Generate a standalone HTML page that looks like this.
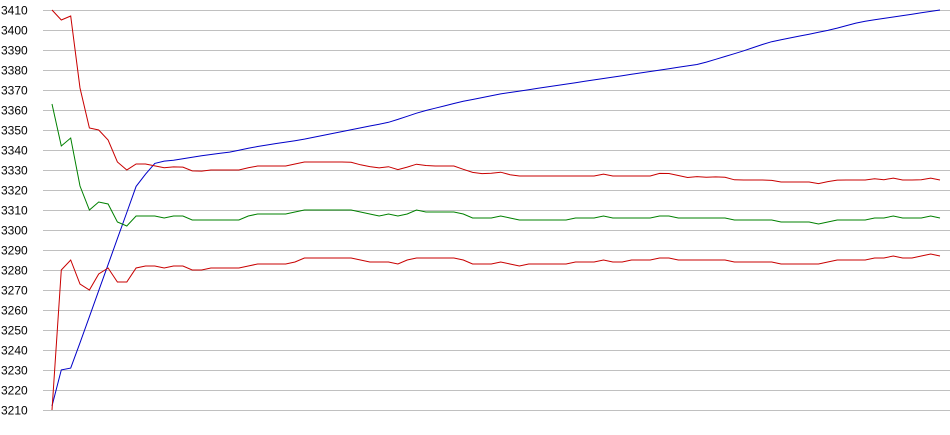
<!DOCTYPE html>
<html><head><meta charset="utf-8"><style>
html,body{margin:0;padding:0;background:#fff;width:950px;height:435px;overflow:hidden}
svg text{font-family:"Liberation Sans",Arial,sans-serif;font-size:12px;fill:#000}
</style></head><body>
<svg id="c" width="950" height="435" xmlns="http://www.w3.org/2000/svg">
<g id="grid" stroke="#c0c0c0" stroke-width="1"></g>
<g id="labels"></g>
<polyline id="b" fill="none" stroke="#0000c8" stroke-width="1"/>
<polyline id="r1" fill="none" stroke="#c80000" stroke-width="1"/>
<polyline id="g" fill="none" stroke="#008000" stroke-width="1"/>
<polyline id="r2" fill="none" stroke="#c80000" stroke-width="1"/>
</svg>
<script>
var Y=function(v){return 10+(3410-v)*2;};
var ns="http://www.w3.org/2000/svg",gr=document.getElementById('grid'),lb=document.getElementById('labels');
for(var v=3210;v<=3410;v+=10){var y=Y(v)+0.5;
var l=document.createElementNS(ns,'line');l.setAttribute('x1',43);l.setAttribute('x2',950);l.setAttribute('y1',y);l.setAttribute('y2',y);gr.appendChild(l);
var t=document.createElementNS(ns,'text');t.setAttribute('x',1);t.setAttribute('y',y+4);t.textContent=v;lb.appendChild(t);}
function interp(k,x){if(x<=k[0][0])return k[0][1];for(var i=0;i<k.length-1;i++){if(x<=k[i+1][0]){var a=k[i],b=k[i+1];return a[1]+(b[1]-a[1])*(x-a[0])/(b[0]-a[0]);}}return k[k.length-1][1];}
var N=95,x0=52,dx=(940-52)/N;
var redK=[[146,3333],[165,3331],[180,3332],[195,3329],[210,3330],[240,3330],[255,3332],[290,3332],[300,3334],[350,3334],[365,3332],[380,3331],[387,3332],[396,3330],[405,3331],[415,3333],[430,3332],[455,3332],[470,3329],[485,3328],[500,3329],[515,3327],[595,3327],[603,3328],[612,3327],[655,3327],[662,3329],[690,3326],[700,3327],[710,3326],[720,3327],[735,3325],[770,3325],[778,3324],[810,3324],[817,3323],[825,3324],[838,3325],[870,3325],[877,3326],[885,3325],[893,3326],[900,3325],[920,3325],[930,3326],[940,3325]];
var blueK=[[52,3212],[61,3230],[71,3231],[137,3323],[156,3334],[175,3335],[200,3337],[230,3339],[260,3342],[300,3345],[330,3348],[360,3351],[390,3354],[420,3359],[460,3364],[500,3368],[540,3371],[580,3374],[620,3377],[660,3380],[700,3383],[740,3389],[770,3394],[800,3397],[830,3400],[860,3404],[900,3407],[940,3410]];
var gOff=[[136,-26],[160,-25],[350,-24],[500,-22],[650,-21],[800,-20],[940,-19]];
var rOff=[[136,-52],[160,-50],[350,-48],[500,-45],[650,-42],[800,-41],[940,-38]];
var r1e=[3410,3405,3407,3371,3351,3350,3345,3334,3330];
var ge=[3363,3342,3346,3322,3310,3314,3313,3304,3302];
var r2e=[3210,3280,3285,3273,3270,3278,3281,3274,3274];
var P={b:[],r1:[],g:[],r2:[]};
for(var i=0;i<=N;i++){var x=x0+i*dx,base=interp(redK,x);
P.b.push(x.toFixed(1)+','+Y(interp(blueK,x)).toFixed(1));
var r1=i<9?r1e[i]:base, g=i<9?ge[i]:Math.round(base+interp(gOff,x)), r2=i<9?r2e[i]:Math.round(base+interp(rOff,x));
P.r1.push(x.toFixed(1)+','+Y(r1).toFixed(1));
P.g.push(x.toFixed(1)+','+Y(g).toFixed(1));
P.r2.push(x.toFixed(1)+','+Y(r2).toFixed(1));}
for(var k in P)document.getElementById(k).setAttribute('points',P[k].join(' '));
</script>
</body></html>
